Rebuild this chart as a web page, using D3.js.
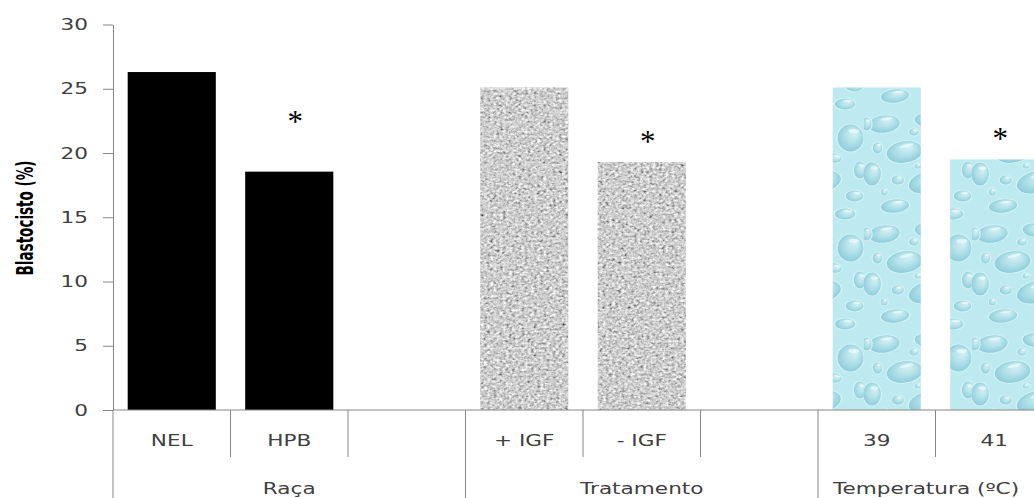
<!DOCTYPE html>
<html>
<head>
<meta charset="utf-8">
<script src="https://cdn.jsdelivr.net/npm/d3@7"></script>
<style>
  body { margin: 0; background: #fff; }
  svg { display: block; font-family: "DejaVu Sans", Verdana, sans-serif; }
</style>
</head>
<body>
<svg id="chart" width="1034" height="498"></svg>
<script>
const groups = ["Raça", "Tratamento", "Temperatura (ºC)"];
const categories = ["NEL", "HPB", "+ IGF", "- IGF", "39", "41"];
const categoryGroup = ["Raça", "Raça", "Tratamento", "Tratamento", "Temperatura (ºC)", "Temperatura (ºC)"];
const blastocisto = [26.3, 18.55, 25.1, 19.3, 25.1, 19.5];
const asteriskAt = [null, 22.75, null, 21.15, null, 21.4];
const yTicks = [0, 5, 10, 15, 20, 25, 30];

const width = 1034, height = 498;
const stretch = 1.35; // the source picture is stretched sideways, text too
const axisColor = "#868686", textColor = "#404040";
const svg = d3.select("#chart");

// each group gets its categories plus one empty slot
const slots = [];
groups.forEach((g, gi) => {
    categories.forEach((c, i) => { if (categoryGroup[i] === g) slots.push(c); });
    slots.push("gap" + gi);
});

const x = d3.scaleBand().domain(slots).range([113, 113 + slots.length * 117.5])
    .paddingInner(0.25).paddingOuter(0.125);
const y = d3.scaleLinear().domain([0, 30]).range([410, 24.5]);
const slotLeft = s => x(s) - (x.step() - x.bandwidth()) / 2;

// textures
const defs = svg.append("defs");
const noise = defs.append("filter").attr("id", "noise")
    .attr("x", 0).attr("y", 0).attr("width", 1).attr("height", 1);
noise.append("feTurbulence").attr("type", "fractalNoise").attr("baseFrequency", "0.32 0.42")
    .attr("numOctaves", 2).attr("seed", 7);
noise.append("feColorMatrix").attr("type", "matrix")
    .attr("values", "0.33 0.33 0.33 0 0  0.33 0.33 0.33 0 0  0.33 0.33 0.33 0 0  0 0 0 0 1");
const ct = noise.append("feComponentTransfer");
["feFuncR", "feFuncG", "feFuncB"].forEach(f => ct.append(f).attr("type", "linear").attr("slope", 2.1).attr("intercept", -0.43));
noise.append("feComposite").attr("in2", "SourceGraphic").attr("operator", "in");

const grad = defs.append("radialGradient").attr("id", "drop")
    .attr("cx", 0.5).attr("cy", 0.5).attr("r", 0.55).attr("fx", 0.68).attr("fy", 0.3);
[[0, "#d6f2f6"], [0.5, "#b2e1e9"], [0.85, "#94d0dc"], [1, "#86c6d4"]]
    .forEach(([o, c]) => grad.append("stop").attr("offset", o).attr("stop-color", c));

const pw = 80, ph = 110;
const drops = defs.append("pattern").attr("id", "drops").attr("patternUnits", "userSpaceOnUse")
    .attr("width", pw).attr("height", ph).attr("patternTransform", `scale(${stretch},1)`);
drops.append("rect").attr("width", pw).attr("height", ph).attr("fill", "#bde9f0");
[[15, 14, 12, 9, -15], [46, 10, 9, 7, 10], [70, 28, 10, 14, 0], [30, 42, 14, 11, -20], [6, 64, 7, 12, 0],
 [48, 72, 16, 11, -25], [73, 86, 7, 6, 0], [37, 22, 4, 4, 0], [58, 48, 6, 5, 20], [10, 38, 4, 6, 0],
 [23, 96, 11, 7, -10], [2, 14, 4, 7, 0], [66, 104, 8, 6, 0], [25, 70, 5, 5, 0], [52, 96, 4, 4, 0],
 [77, 60, 5, 9, 0], [40, 56, 3, 3, 0], [15, 82, 3, 4, 0]]
    .forEach(([cx, cy, rx, ry, rot]) => {
        const g = drops.append("g").attr("transform", `translate(${cx},${cy}) rotate(${rot})`);
        g.append("ellipse").attr("rx", rx).attr("ry", ry)
            .attr("fill", "url(#drop)").attr("stroke", "#d2f2f6").attr("stroke-width", 1);
        g.append("ellipse").attr("cx", rx * 0.25).attr("cy", -ry * 0.5)
            .attr("rx", rx * 0.4).attr("ry", Math.max(1, ry * 0.14)).attr("fill", "#f0fbfc").attr("opacity", 0.7);
    });

const groupFill = { "Raça": "#000", "Tratamento": "#a6a6a6", "Temperatura (ºC)": "url(#drops)" };

// bars
svg.append("g").selectAll("rect").data(categories).join("rect")
    .attr("x", d => x(d))
    .attr("y", (d, i) => y(blastocisto[i]))
    .attr("width", x.bandwidth())
    .attr("height", (d, i) => y(0) - y(blastocisto[i]))
    .attr("fill", (d, i) => groupFill[categoryGroup[i]])
    .attr("filter", (d, i) => categoryGroup[i] === "Tratamento" ? "url(#noise)" : null);

// asterisks
svg.append("g").selectAll("text").data(categories.filter((d, i) => asteriskAt[i] != null)).join("text")
    .attr("x", d => x(d) + x.bandwidth() / 2 + 6)
    .attr("y", d => y(asteriskAt[categories.indexOf(d)]) + 14)
    .attr("text-anchor", "middle")
    .attr("font-family", "'Liberation Serif', 'DejaVu Serif', serif")
    .attr("font-size", 31)
    .attr("fill", "#000")
    .text("*");

// y axis
const yAxis = svg.append("g").attr("transform", `translate(${x.range()[0]},0)`)
    .call(d3.axisLeft(y).tickValues(yTicks).tickSize(10).tickSizeOuter(0))
    .attr("font-size", 16).attr("font-family", null);
yAxis.select(".domain").attr("stroke", axisColor);
yAxis.selectAll(".tick line").attr("stroke", axisColor);
yAxis.selectAll(".tick text").attr("fill", textColor)
    .attr("x", -25 / stretch).attr("transform", `scale(${stretch},1)`);

// category axis
svg.append("line").attr("x1", x.range()[0]).attr("x2", x.range()[1])
    .attr("y1", y(0)).attr("y2", y(0)).attr("stroke", axisColor);
const firstOfGroup = new Set(groups.map(g => categories[categoryGroup.indexOf(g)]));
svg.append("g").selectAll("line").data(slots).join("line")
    .attr("x1", d => slotLeft(d)).attr("x2", d => slotLeft(d))
    .attr("y1", y(0))
    .attr("y2", d => firstOfGroup.has(d) ? height : 457)
    .attr("stroke", axisColor);

svg.append("g").selectAll("text").data(categories).join("text")
    .attr("transform", d => `translate(${x(d) + x.bandwidth() / 2},446) scale(${stretch},1)`)
    .attr("text-anchor", "middle").attr("font-size", 16).attr("fill", textColor)
    .text(d => d);

svg.append("g").selectAll("text").data(groups).join("text")
    .attr("transform", g => {
        const members = slots.filter(s => categoryGroup[categories.indexOf(s)] === g);
        const left = slotLeft(members[0]);
        const right = Math.min(width, slotLeft(members[members.length - 1]) + 2 * x.step());
        return `translate(${(left + right) / 2},494) scale(${stretch},1)`;
    })
    .attr("text-anchor", "middle").attr("font-size", 16).attr("fill", textColor)
    .text(g => g);

// y title
svg.append("text")
    .attr("transform", `translate(26,218) scale(${stretch},1) rotate(-90)`)
    .attr("text-anchor", "middle").attr("dominant-baseline", "central")
    .attr("font-family", "'Liberation Sans Narrow', 'DejaVu Sans Condensed', 'Roboto', sans-serif")
    .attr("font-weight", "bold").attr("font-size", 16.5)
    .attr("textLength", 115).attr("lengthAdjust", "spacingAndGlyphs")
    .text("Blastocisto (%)");
</script>
</body>
</html>
